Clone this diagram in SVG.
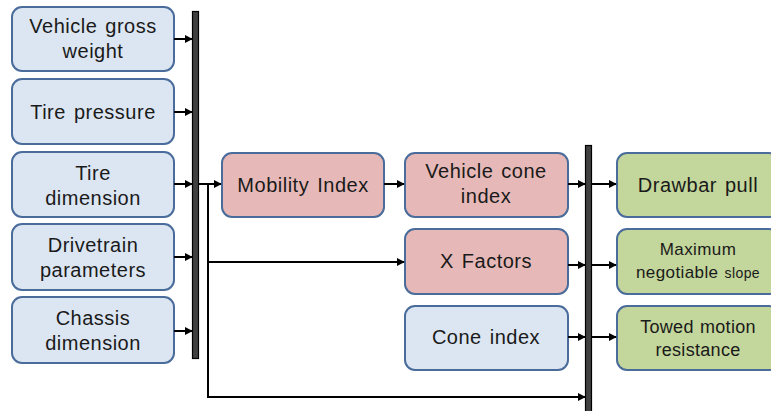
<svg xmlns="http://www.w3.org/2000/svg" width="771" height="411" viewBox="0 0 771 411">
  <defs>
    <marker id="arrow" viewBox="0 0 10 10" refX="9" refY="5" markerWidth="8" markerHeight="8" markerUnits="userSpaceOnUse" orient="auto">
      <path d="M0,0 L10,5 L0,10 z" fill="#000"/>
    </marker>
    <style>
      .box { stroke: #4a6c9b; stroke-width: 2; }
      .input { fill: #dce6f2; }
      .mid { fill: #e6b9b8; }
      .out { fill: #c3d69b; }
      .bar { fill: #404040; stroke: #000; stroke-width: 1.2; }
      .t { font-family: "Liberation Sans", Arial, sans-serif; font-size: 20px; letter-spacing: 0.5px; word-spacing: 2px; fill: #1a1a1a; text-anchor: middle; }
      .s { font-size: 17px; letter-spacing: 0.4px; word-spacing: 1px; }
      .m { font-size: 18px; letter-spacing: 0.3px; word-spacing: 1px; }
      .conn { stroke: #000; stroke-width: 2; fill: none; }
      .arr { marker-end: url(#arrow); }
    </style>
  </defs>
  <rect width="771" height="411" fill="#fff"/>

  <!-- input parameters -->
  <g id="vehicle-gross-weight">
    <rect class="box input" x="12" y="7" width="162" height="64" rx="10"/>
    <text class="t" x="93" y="33">Vehicle gross</text>
    <text class="t" x="93" y="58">weight</text>
  </g>
  <g id="tire-pressure">
    <rect class="box input" x="12" y="79" width="162" height="65" rx="10"/>
    <text class="t" x="93" y="119">Tire pressure</text>
  </g>
  <g id="tire-dimension">
    <rect class="box input" x="12" y="152" width="162" height="65" rx="10"/>
    <text class="t" x="93" y="180">Tire</text>
    <text class="t" x="93" y="205">dimension</text>
  </g>
  <g id="drivetrain-parameters">
    <rect class="box input" x="12" y="224" width="162" height="66" rx="10"/>
    <text class="t" x="93" y="252">Drivetrain</text>
    <text class="t" x="93" y="277">parameters</text>
  </g>
  <g id="chassis-dimension">
    <rect class="box input" x="12" y="297" width="162" height="66" rx="10"/>
    <text class="t" x="93" y="325">Chassis</text>
    <text class="t" x="93" y="350">dimension</text>
  </g>

  <!-- collector bars -->
  <g id="bar-inputs">
    <rect class="bar" x="192.5" y="11.5" width="6" height="347"/>
  </g>
  <g id="bar-outputs">
    <rect class="bar" x="585.5" y="145.5" width="6" height="270"/>
  </g>

  <!-- intermediate quantities -->
  <g id="mobility-index">
    <rect class="box mid" x="222" y="153" width="162" height="64" rx="10"/>
    <text class="t" x="303" y="192">Mobility Index</text>
  </g>
  <g id="vehicle-cone-index">
    <rect class="box mid" x="405" y="153" width="163" height="64" rx="10"/>
    <text class="t" x="486" y="178">Vehicle cone</text>
    <text class="t" x="486" y="203">index</text>
  </g>
  <g id="x-factors">
    <rect class="box mid" x="405" y="229" width="163" height="65" rx="10"/>
    <text class="t" x="486" y="268">X Factors</text>
  </g>
  <g id="cone-index">
    <rect class="box input" x="405" y="306" width="163" height="64" rx="10"/>
    <text class="t" x="486" y="344">Cone index</text>
  </g>

  <!-- outputs -->
  <g id="drawbar-pull">
    <rect class="box out" x="617" y="153" width="162" height="64" rx="10"/>
    <text class="t" x="698" y="192">Drawbar pull</text>
  </g>
  <g id="maximum-negotiable-slope">
    <rect class="box out" x="617" y="229" width="162" height="65" rx="10"/>
    <text class="t s" x="698" y="255">Maximum</text>
    <text class="t s" x="698" y="278">negotiable <tspan style="font-size:14px">slope</tspan></text>
  </g>
  <g id="towed-motion-resistance">
    <rect class="box out" x="617" y="306" width="162" height="64" rx="10"/>
    <text class="t m" x="698" y="333">Towed motion</text>
    <text class="t m" x="698" y="356">resistance</text>
  </g>

  <!-- connectors -->
  <g id="connectors">
    <line class="conn arr" x1="174" y1="39" x2="192" y2="39"/>
    <line class="conn arr" x1="174" y1="112" x2="192" y2="112"/>
    <line class="conn arr" x1="174" y1="184" x2="192" y2="184"/>
    <line class="conn arr" x1="174" y1="257" x2="192" y2="257"/>
    <line class="conn arr" x1="174" y1="331" x2="192" y2="331"/>

    <line class="conn arr" x1="199" y1="184" x2="221" y2="184"/>
    <polyline class="conn" points="208,184 208,397"/>
    <line class="conn arr" x1="207" y1="262" x2="404" y2="262"/>
    <line class="conn arr" x1="207" y1="397" x2="585" y2="397"/>

    <line class="conn arr" x1="384" y1="184" x2="404" y2="184"/>

    <line class="conn arr" x1="568" y1="184" x2="585" y2="184"/>
    <line class="conn arr" x1="568" y1="265" x2="585" y2="265"/>
    <line class="conn arr" x1="568" y1="337" x2="585" y2="337"/>

    <line class="conn arr" x1="591" y1="184" x2="616" y2="184"/>
    <line class="conn arr" x1="591" y1="265" x2="616" y2="265"/>
    <line class="conn arr" x1="591" y1="337" x2="616" y2="337"/>
  </g>
</svg>
